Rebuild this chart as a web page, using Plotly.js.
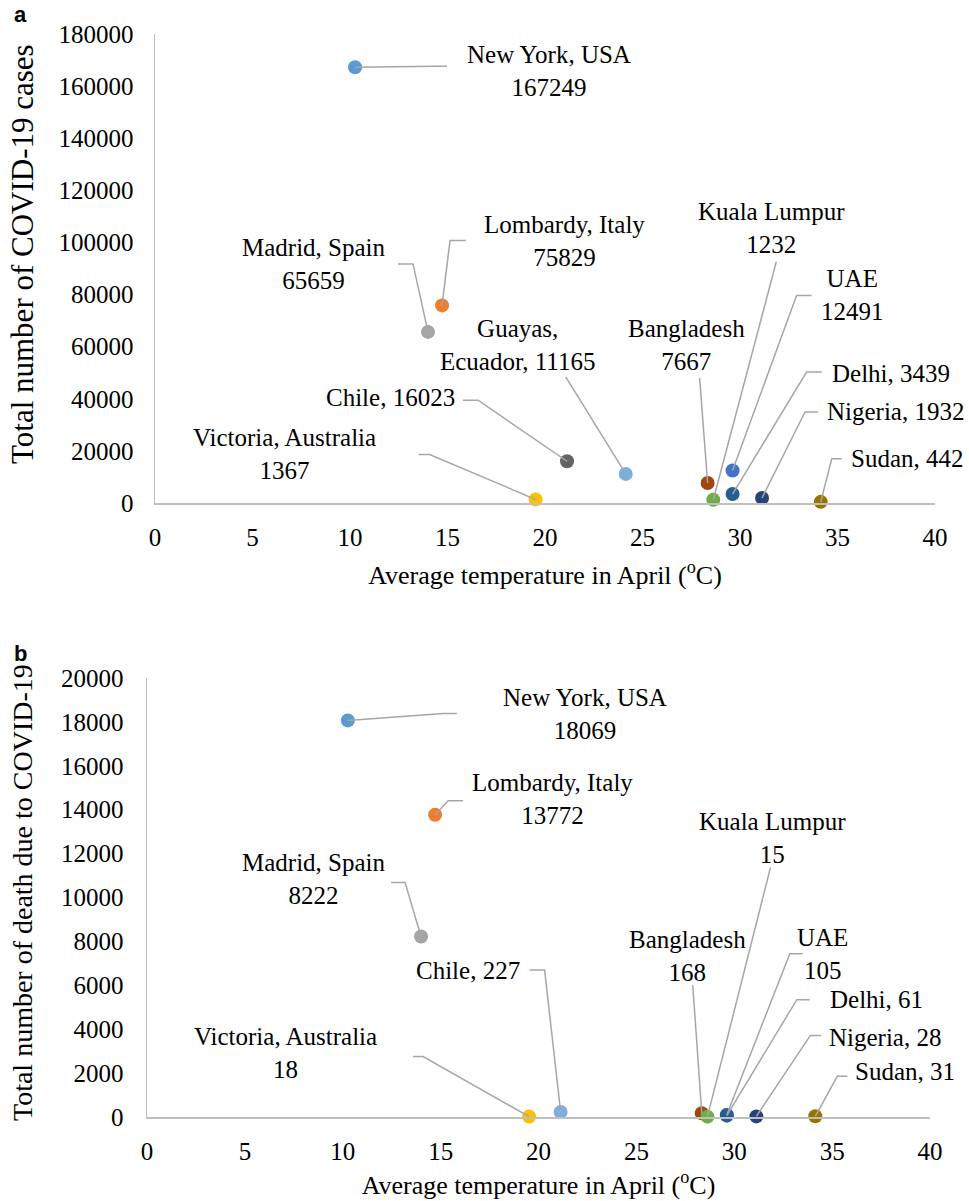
<!DOCTYPE html>
<html>
<head>
<meta charset="utf-8">
<script src="https://cdn.plot.ly/plotly-3.0.1.min.js"></script>
<style>html,body{margin:0;padding:0;background:#fff;}#chart{width:969px;height:1201px;}</style>
</head>
<body>
<div id="chart"></div>
<script>
// ---------- data ----------
const places = ['New York, USA','Lombardy, Italy','Madrid, Spain','Chile','Guayas, Ecuador','Victoria, Australia','Bangladesh','Kuala Lumpur','UAE','Delhi','Nigeria','Sudan'];
const temps  = [10.26, 14.72, 14.0, 21.13, 24.14, 19.52, 28.34, 28.63, 29.62, 29.62, 31.13, 34.14];
const cases  = [167249, 75829, 65659, 16023, 11165, 1367, 7667, 1232, 12491, 3439, 1932, 442];
const deaths = [18069, 13772, 8222, 227, null, 18, 168, 15, 105, 61, 28, 31];
const xTicks = [0, 5, 10, 15, 20, 25, 30, 35, 40];
const yTicksCases  = [0, 20000, 40000, 60000, 80000, 100000, 120000, 140000, 160000, 180000];
const yTicksDeaths = [0, 2000, 4000, 6000, 8000, 10000, 12000, 14000, 16000, 18000, 20000];

// label names as written on the chart and the separator before the value
const labelNamesA = ['New York, USA','Lombardy, Italy','Madrid, Spain','Chile','Guayas,<br>Ecuador','Victoria, Australia','Bangladesh','Kuala Lumpur','UAE','Delhi','Nigeria','Sudan'];
const labelSepA   = ['<br>','<br>','<br>',', ',', ','<br>','<br>','<br>','<br>',', ',', ',', '];
const labelSepB   = ['<br>','<br>','<br>',', ',null,'<br>','<br>','<br>','<br>',', ',', ',', '];

// ---------- styles ----------
const colorsA = ['#5B9BD5','#ED7D31','#A5A5A5','#636363','#7CAFDD','#FFC000','#9E480E','#70AD47','#4472C4','#255E91','#264478','#997300'];
const colorsB = ['#5B9BD5','#ED7D31','#A5A5A5','#7CAFDD',null,'#FFC000','#9E480E','#70AD47','#4472C4','#255E91','#264478','#997300'];

// leader geometry (screen px, relative to the point; dy positive = down)
// [elbowDx, elbowDy, endDx, textDx, textDy, anchor]
const leadA = [
  [80, -1, 92, 194, 4, 'center'],
  [8, -65, 24, 122, -64, 'center'],
  [-15, -68, -30, -114, -68, 'center'],
  [-89, -61, -104, -110, -64, 'right'],
  [-60, -97, -60, -108, -129, 'center'],
  [-106, -45, -117, -251, -45, 'center'],
  [-8, -105, -8, -21, -138, 'center'],
  [63, -238, 63, 58, -272, 'center'],
  [64, -175, 79, 120, -175, 'center'],
  [74, -122, 89, 97, -121, 'left'],
  [43, -86, 56, 63, -86, 'left'],
  [11, -43, 21, 28, -43, 'left']
];
const leadB = [
  [95, -7, 109, 237, -6, 'center'],
  [13, -14, 28, 117, -16, 'center'],
  [-16, -54, -30, -107, -58, 'center'],
  [-16, -142, -31, -39, -142, 'right'],
  null,
  [-106, -60, -116, -244, -64, 'center'],
  [-9, -128, -9, -14, -157, 'center'],
  [63, -249, 63, 65, -279, 'center'],
  [63, -161, 76, 96, -161, 'center'],
  [70, -116, 83, 101, -116, 'left'],
  [54, -81, 65, 71, -79, 'left'],
  [22, -40, 32, 38, -45, 'left']
];

const serif = 'Liberation Serif, Times New Roman, serif';
const leaderColor = '#A6A6A6';
const axisColor = '#BFBFBF';

function pick(arr, vals){ const o=[]; vals.forEach((v,i)=>{ if(v!==null) o.push(arr[i]); }); return o; }

const traces = [
  {type:'scatter', mode:'markers', x: temps, y: cases, text: places, xaxis:'x', yaxis:'y',
   marker:{size:14, color: colorsA, line:{width:0}}, cliponaxis:false, hoverinfo:'text+x+y', showlegend:false},
  {type:'scatter', mode:'markers', x: pick(temps, deaths), y: pick(deaths, deaths), text: pick(places, deaths), xaxis:'x2', yaxis:'y2',
   marker:{size:14, color: pick(colorsB, deaths), line:{width:0}}, cliponaxis:false, hoverinfo:'text+x+y', showlegend:false}
];

const shapes = [];
const annotations = [];
function addLabels(vals, names, seps, lead, xr, yr){
  vals.forEach((v,i)=>{
    if(v===null || !lead[i]) return;
    const L = lead[i];
    shapes.push({type:'path', xref:xr, yref:yr, xsizemode:'pixel', ysizemode:'pixel',
      xanchor: temps[i], yanchor: v,
      path: 'M0,0L'+L[0]+','+(-L[1])+'L'+L[2]+','+(-L[1]),
      line:{color:leaderColor, width:1.5}, layer:'above'});
    annotations.push({xref:xr, yref:yr, x: temps[i], y: v, showarrow:false,
      text: names[i] + seps[i] + v, xshift: L[3], yshift: -L[4],
      xanchor: L[5], yanchor:'middle', align: L[5]==='right'?'right':(L[5]==='left'?'left':'center'),
      font:{family:serif, size:25, color:'#000'}});
  });
}
addLabels(cases, labelNamesA, labelSepA, leadA, 'x', 'y');
addLabels(deaths, labelNamesA, labelSepB, leadB, 'x2', 'y2');

// panel letters
annotations.push({xref:'paper', yref:'paper', x:12/969, y:1-15/1201, xanchor:'left', yanchor:'middle', showarrow:false,
  text:'<b>a</b>', font:{family:'Liberation Sans, Arial, sans-serif', size:22, color:'#000'}});
annotations.push({xref:'paper', yref:'paper', x:12/969, y:1-653/1201, xanchor:'left', yanchor:'middle', showarrow:false,
  text:'<b>b</b>', font:{family:'Liberation Sans, Arial, sans-serif', size:22, color:'#000'}});
// y-axis titles
annotations.push({xref:'paper', yref:'paper', x:22/969, y:1-254/1201, xanchor:'center', yanchor:'middle', showarrow:false,
  textangle:-90, text:'Total number of COVID-19 cases', font:{family:serif, size:31, color:'#000'}});
annotations.push({xref:'paper', yref:'paper', x:22/969, y:1-893/1201, xanchor:'center', yanchor:'middle', showarrow:false,
  textangle:-90, text:'Total number of death due to COVID-19', font:{family:serif, size:28, color:'#000'}});

const xCommon = {range:[0,40], tickvals:xTicks, ticktext:xTicks.map(String), showgrid:false, zeroline:false,
  showline:true, linecolor:axisColor, linewidth:1.5, ticks:'', ticklabelstandoff:11,
  tickfont:{family:serif, size:25, color:'#000'}, fixedrange:true};
const yCommon = {showgrid:false, zeroline:false, showline:true, linecolor:axisColor, linewidth:1.5, ticks:'',
  tickfont:{family:serif, size:25, color:'#000'}, fixedrange:true};

const layout = {
  width:969, height:1201, margin:{l:0,r:0,t:0,b:0}, paper_bgcolor:'#fff', plot_bgcolor:'#fff',
  showlegend:false,
  xaxis: Object.assign({}, xCommon, {domain:[155/969, 935/969], anchor:'y',
    title:{text:'Average temperature in April (<sup>o</sup>C)', font:{family:serif, size:26, color:'#000'}, standoff:16}}),
  yaxis: Object.assign({}, yCommon, {domain:[1-503/1201, 1-34/1201], anchor:'x', range:[0,180000],
    ticklabelstandoff:15, tickvals:yTicksCases, ticktext:yTicksCases.map(String)}),
  xaxis2: Object.assign({}, xCommon, {domain:[147/969, 930/969], anchor:'y2',
    title:{text:'Average temperature in April (<sup>o</sup>C)', font:{family:serif, size:26, color:'#000'}, standoff:12}}),
  yaxis2: Object.assign({}, yCommon, {domain:[1-1117/1201, 1-678/1201], anchor:'x2', range:[0,20000],
    ticklabelstandoff:17, tickvals:yTicksDeaths, ticktext:yTicksDeaths.map(String)}),
  shapes: shapes,
  annotations: annotations
};

Plotly.newPlot('chart', traces, layout, {displayModeBar:false, staticPlot:true});
</script>
</body>
</html>
